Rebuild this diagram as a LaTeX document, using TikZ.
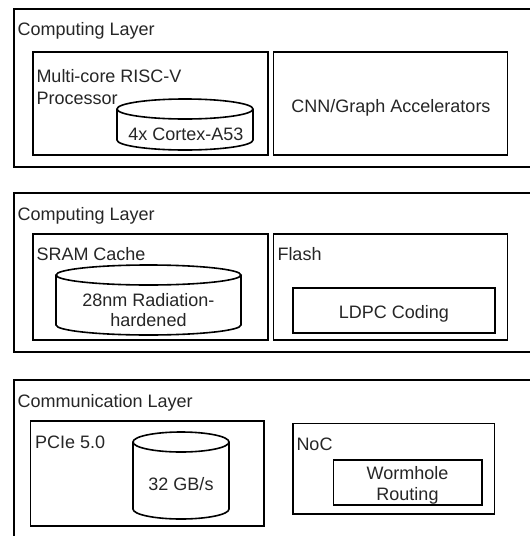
\documentclass[tikz,border=0pt]{standalone}
\usepackage{fontspec}
\setmainfont{Liberation Sans}
\begin{document}
\begin{tikzpicture}[x=1pt,y=1pt,
  frame/.style={draw=black,line width=1.6pt},
  lbl/.style={inner sep=0pt,outer sep=0pt,font=\fontsize{18}{22}\selectfont,text=black!85},
  cyl/.style={draw=black,line width=1.6pt,fill=white}]
\useasboundingbox (0,0) rectangle (530,-536);
\clip (0,0) rectangle (530,-536);
\fill[white] (0,0) rectangle (530,-536);

% ---------- Layer 1 ----------
\draw[frame] (14,-9) rectangle (545,-167);
\node[lbl,anchor=base west] (l1) at (17.6,-35.5) {Computing Layer};
\draw[frame] (33,-52) rectangle (268,-155);
\draw[frame] (273.5,-52) rectangle (507.5,-155);
\node[lbl,anchor=base west] (mc1) at (36.5,-82.8) {Multi-core RISC-V};
\node[lbl,anchor=base west] (mc2) at (36.5,-104.8) {Processor};
% cylinder 1
\draw[cyl] (117,-109) -- (117,-140) arc[start angle=180,end angle=360,x radius=68pt,y radius=10pt] -- (253,-109);
\draw[cyl] (185,-109) ellipse[x radius=68pt,y radius=10pt];
\node[lbl,anchor=base] (cortex) at (186,-140) {4x Cortex-A53};
\node[lbl,anchor=base] (cnn) at (391,-112) {CNN/Graph Accelerators};

% ---------- Layer 2 ----------
\draw[frame] (14,-193) rectangle (545,-352);
\node[lbl,anchor=base west] (l2) at (17.6,-220.6) {Computing Layer};
\draw[frame] (33,-234) rectangle (268,-340);
\draw[frame] (273.5,-234) rectangle (507.5,-340);
\node[lbl,anchor=base west] (sram) at (36.5,-260) {SRAM Cache};
\node[lbl,anchor=base west] (flash) at (277.5,-260) {Flash};
% cylinder 2
\draw[cyl] (56,-275) -- (56,-325) arc[start angle=180,end angle=360,x radius=92.5pt,y radius=10pt] -- (241,-275);
\draw[cyl] (148.5,-275) ellipse[x radius=92.5pt,y radius=10pt];
\node[lbl,anchor=base] (rad1) at (148.5,-306.5) {28nm Radiation-};
\node[lbl,anchor=base] (rad2) at (148.5,-326.5) {hardened};
\draw[frame] (293,-288) rectangle (495,-333);
\node[lbl,anchor=base] (ldpc) at (394,-318.5) {LDPC Coding};

% ---------- Layer 3 ----------
\draw[frame] (14,-380) rectangle (545,-560);
\node[lbl,anchor=base west] (l3) at (17.6,-407.3) {Communication Layer};
\draw[frame] (30.5,-421) rectangle (264,-526);
\node[lbl,anchor=base west] (pcie) at (35,-448) {PCIe 5.0};
% cylinder 3
\draw[cyl] (133,-442) -- (133,-509) arc[start angle=180,end angle=360,x radius=48pt,y radius=10pt] -- (229,-442);
\draw[cyl] (181,-442) ellipse[x radius=48pt,y radius=10pt];
\node[lbl,anchor=base] (gbs) at (181,-490.5) {32 GB/s};
\draw[frame] (293,-423.5) rectangle (494.5,-514);
\node[lbl,anchor=base west] (noc) at (296.5,-450) {NoC};
\draw[frame] (333.5,-460) rectangle (482,-505);
\node[lbl,anchor=base] (worm1) at (407.5,-479.3) {Wormhole};
\node[lbl,anchor=base] (worm2) at (407.5,-500) {Routing};
\end{tikzpicture}
\end{document}
